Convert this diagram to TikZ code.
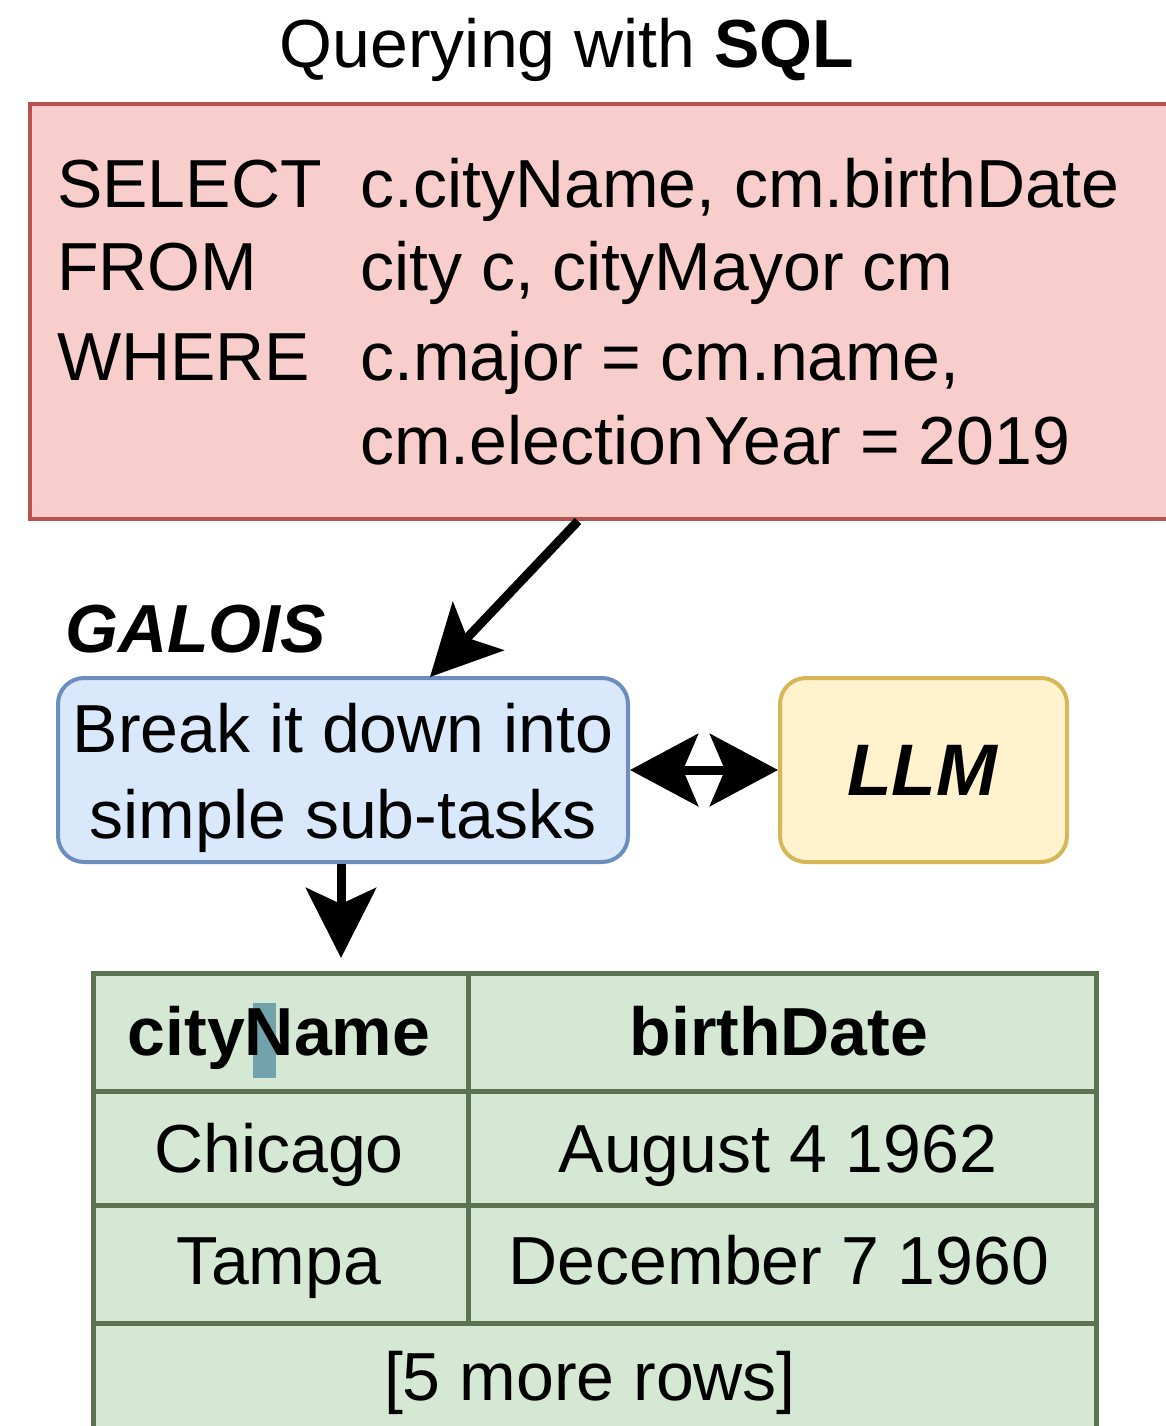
\documentclass[tikz,border=0pt]{standalone}
\usepackage{fontspec}
\setmainfont{Liberation Sans}
\usetikzlibrary{arrows.meta,calc}

\definecolor{sqlfill}{HTML}{F8CECC}
\definecolor{sqldraw}{HTML}{B85450}
\definecolor{taskfill}{HTML}{DAE8FC}
\definecolor{taskdraw}{HTML}{6C8EBF}
\definecolor{llmfill}{HTML}{FFF2CC}
\definecolor{llmdraw}{HTML}{D6B656}
\definecolor{tabfill}{HTML}{D5E8D4}
\definecolor{tabdraw}{HTML}{5C7352}
\definecolor{selmark}{HTML}{72A3AC}

\tikzset{
  txt/.style={inner sep=0pt, font=\fontsize{68}{86}\selectfont},
  lbl/.style={txt, anchor=base},
  lblw/.style={txt, anchor=base west},
  roundbox/.style={rounded corners=26pt, line width=4pt, inner sep=0pt},
  bigarrow/.style={line width=9pt, -{Stealth[length=70pt, width=70pt, inset=16pt]}},
  dblarrow/.style={line width=9pt, {Stealth[length=68pt, width=72pt, inset=15pt]}-{Stealth[length=68pt, width=72pt, inset=15pt]}},
  cell/.style={draw=tabdraw, fill=tabfill, line width=5pt}
}

\begin{document}
\begin{tikzpicture}[x=1pt, y=-1pt]
\useasboundingbox (0,0) rectangle (1166,1426);
\clip (0,0) rectangle (1166,1426);

% heading
\node[lbl] (title) at (567,68) {Querying with \textbf{SQL}};

% SQL query box
\draw[fill=sqlfill, draw=sqldraw, line width=4pt] (30,104) rectangle (1200,519);
\coordinate (sqlout) at (578,521);
\node[lblw] (kwsel) at (57,207) {SELECT};
\node[lblw] (kwfrom) at (57,290) {FROM};
\node[lblw] (kwwhere) at (57,380) {WHERE};
\node[lblw] (argsel) at (360,207) {c.cityName, cm.birthDate};
\node[lblw] (argfrom) at (360,290) {city c, cityMayor cm};
\node[lblw] (argwhere) at (360,380) {c.major = cm.name,};
\node[lblw] (argwhere2) at (360,464) {cm.electionYear = 2019};

% system name
\node[lblw] (galois) at (65,652) {\textbf{\textit{GALOIS}}};

% decomposition step and the language model
\node[roundbox, draw=taskdraw, fill=taskfill, minimum width=570pt, minimum height=184pt] (task) at (343,770) {};
\node[lbl] (taskA) at (343,752) {Break it down into};
\node[lbl] (taskB) at (343,838) {simple sub-tasks};

\node[roundbox, draw=llmdraw, fill=llmfill, minimum width=287pt, minimum height=184pt] (llm) at (923.5,770) {};
\node[txt, anchor=base, font=\fontsize{73}{86}\selectfont] (llmtxt) at (923,795) {\textbf{\textit{LLM}}};

% connectors
\coordinate (taskin) at (430,677);
\coordinate (taskout) at (341,864);
\coordinate (tabin) at (341,958);
\draw[bigarrow] (sqlout) -- (taskin);
\draw[dblarrow] (task.east) -- (llm.west);
\draw[bigarrow] (taskout) -- (tabin);

% result table
\draw[cell] (93,973) rectangle (468,1091);
\draw[cell] (468,973) rectangle (1096,1091);
\draw[cell] (93,1091) rectangle (468,1205);
\draw[cell] (468,1091) rectangle (1096,1205);
\draw[cell] (93,1205) rectangle (468,1323);
\draw[cell] (468,1205) rectangle (1096,1323);
\draw[cell] (93,1323) rectangle (1096,1460);

\fill[selmark] (253,1003) rectangle (276,1078);
\node[lbl] (hcity) at (279,1055) {\textbf{cityName}};
\node[lbl] (hbirth) at (779,1055) {\textbf{birthDate}};
\node[lbl] (c1) at (279,1172) {Chicago};
\node[lbl] (b1) at (778,1172) {August 4 1962};
\node[lbl] (c2) at (279,1284) {Tampa};
\node[lbl] (b2) at (779,1284) {December 7 1960};
\node[lbl] (more) at (590,1400) {[5 more rows]};
\end{tikzpicture}
\end{document}
